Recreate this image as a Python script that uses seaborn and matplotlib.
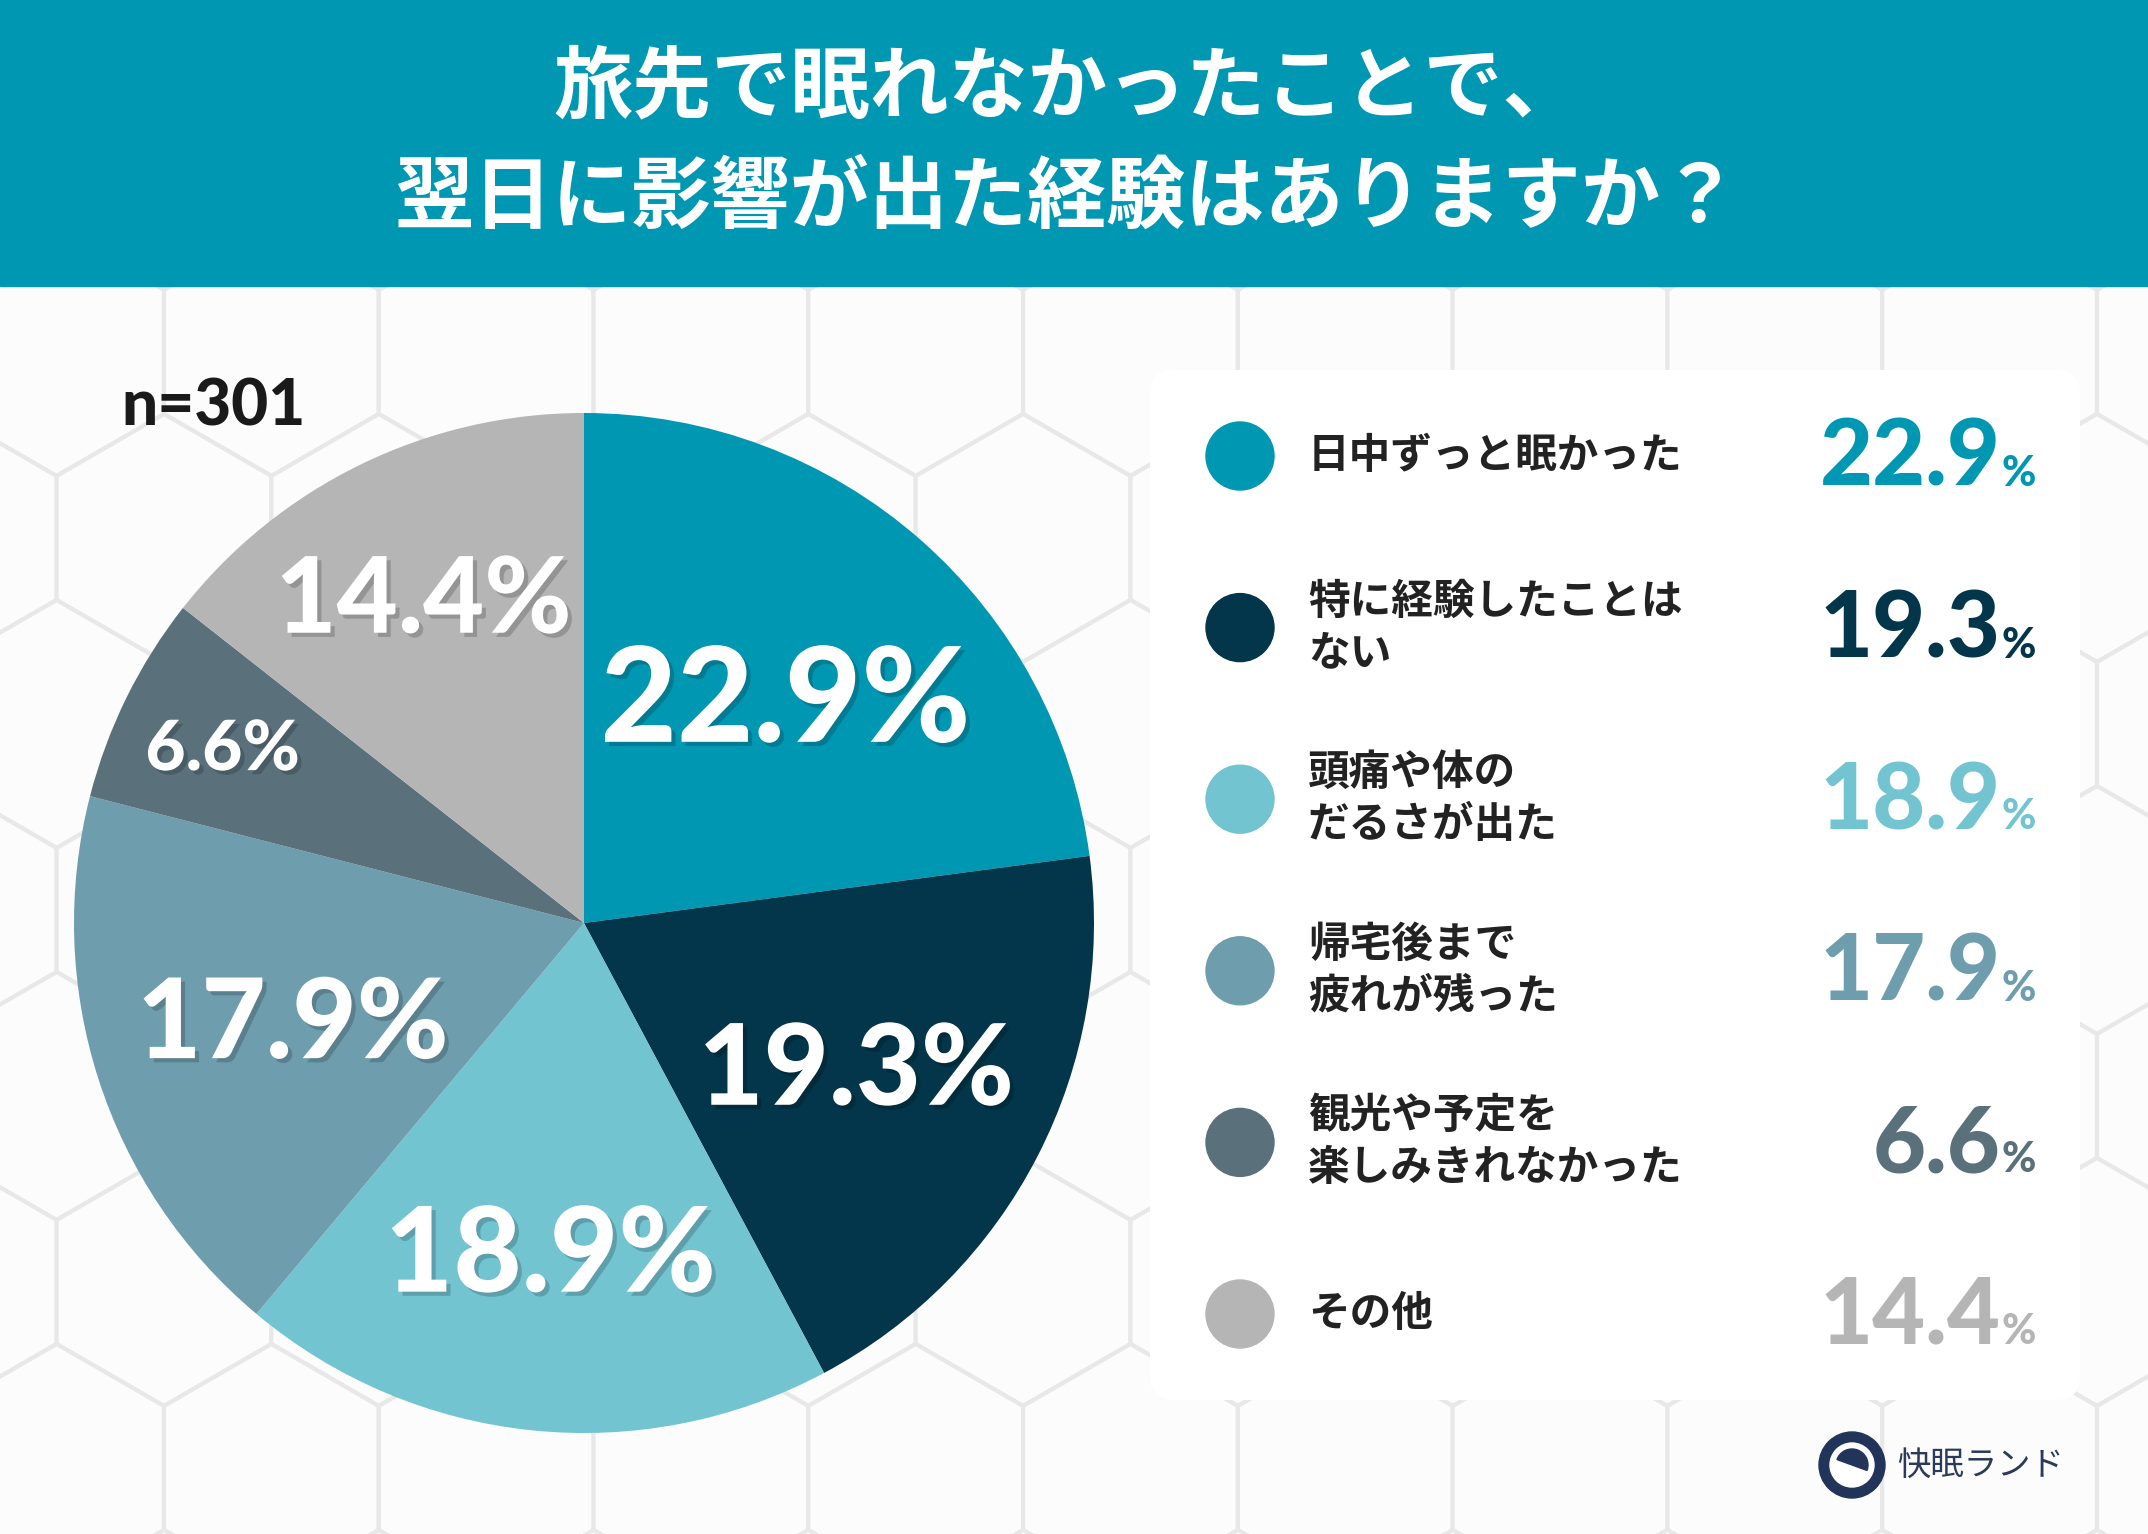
import numpy as np
import matplotlib
matplotlib.use("Agg")
import matplotlib.pyplot as plt
import matplotlib.patches as mpatches
import matplotlib.patheffects as pe
import seaborn as sns

# ---- data ----
categories = ["日中ずっと眠かった", "特に経験したことは\nない", "頭痛や体の\nだるさが出た",
              "帰宅後まで\n疲れが残った", "観光や予定を\n楽しみきれなかった", "その他"]
shares = [22.9, 19.3, 18.9, 17.9, 6.6, 14.4]
colors = ["#0097B2", "#03364A", "#72C4D1", "#6E9DAD", "#5A717C", "#B5B5B5"]
title_lines = ["旅先で眠れなかったことで、", "翌日に影響が出た経験はありますか？"]
sample_note = "n=301"
brand = "快眠ランド"

# label style per slice (distance from centre, font size)
label_r = [0.60, 0.60, 0.64, 0.60, 0.79, 0.72]
label_fs = [95, 81, 85, 80, 50, 76]

W, H = 2148, 1534
JP = ["Noto Sans CJK JP", "DejaVu Sans"]
NUM = ["Lato", "DejaVu Sans"]

sns.set_theme(style="white")
plt.rcParams["font.family"] = NUM

fig = plt.figure(figsize=(W / 100, H / 100), dpi=100)
fig.patch.set_facecolor("#f6f6f6")

bg = fig.add_axes([0, 0, 1, 1])
bg.set_xlim(0, W)
bg.set_ylim(H, 0)
bg.axis("off")

# hexagon background
R = 124
w = np.sqrt(3) * R
for row in range(-1, 11):
    hy = 166 + row * 1.5 * R
    off = 0 if row % 2 == 0 else w / 2
    for col in range(-1, 12):
        hx = 164 + off + col * w
        bg.add_patch(mpatches.RegularPolygon((hx, hy), 6, radius=R, orientation=0,
                                             facecolor="#fcfcfc", edgecolor="#e8e8e8",
                                             lw=3, zorder=0))

# title banner
bg.add_patch(mpatches.Rectangle((0, 0), W, 286, color="#0097B2", zorder=2))
bg.text(1068, 88, title_lines[0], ha="center", va="center", fontsize=57,
        fontweight="bold", color="white", family=JP, zorder=3)
bg.text(1068, 198, title_lines[1], ha="center", va="center", fontsize=57,
        fontweight="bold", color="white", family=JP, zorder=3)

# sample size
bg.text(121, 426, sample_note, ha="left", va="baseline", fontsize=46,
        fontweight="black", color="#1a1a1a", zorder=3)

# legend panel
bg.add_patch(mpatches.FancyBboxPatch((1150, 370), 930, 1030,
                                     boxstyle="round,pad=0,rounding_size=24",
                                     facecolor="white", edgecolor="none", zorder=2))
for i, (cat, val, col) in enumerate(zip(categories, shares, colors)):
    ly = 456 + i * 171.6
    bg.add_patch(mpatches.Circle((1240, ly), 34, color=col, zorder=3))
    bg.text(1308, ly, cat, ha="left", va="center", fontsize=30, fontweight="bold",
            color="#222222", family=JP, linespacing=1.3, zorder=3)
    bg.text(2001, ly + 30, f"{val:.1f}", ha="right", va="baseline", fontsize=66,
            fontweight="black", color=col, zorder=3)
    bg.text(2036, ly + 30, "%", ha="right", va="baseline", fontsize=30,
            fontweight="black", color=col, zorder=3)

# brand logo
bg.add_patch(mpatches.Circle((1852, 1465), 33, color="#22345a", zorder=3))
bg.add_patch(mpatches.Circle((1852, 1465), 22, color="white", zorder=4))
bg.add_patch(mpatches.Wedge((1852, 1465), 16, 200, 20, color="#22345a", zorder=5))
bg.text(1897, 1465, brand, ha="left", va="center", fontsize=24, color="#2b3a58",
        family=JP, zorder=3)

# pie chart
cx, cy, r = 584, 923, 510
pax = fig.add_axes([(cx - r) / W, (H - cy - r) / H, 2 * r / W, 2 * r / H])
wedges, _ = pax.pie(shares, colors=colors, startangle=90, counterclock=False,
                    radius=1, wedgeprops=dict(linewidth=0))
pax.set_xlim(-1, 1)
pax.set_ylim(-1, 1)
pax.set_aspect("equal")
pax.axis("off")

shadow = [pe.withSimplePatchShadow(offset=(3, -3), shadow_rgbFace="black", alpha=0.18)]
for wdg, val, lr, fs in zip(wedges, shares, label_r, label_fs):
    ang = np.deg2rad((wdg.theta1 + wdg.theta2) / 2)
    pax.text(lr * np.cos(ang), lr * np.sin(ang), f"{val:.1f}%", ha="center",
             va="center_baseline", fontsize=fs, fontweight="black", color="white",
             path_effects=shadow)

fig.savefig("out.png", dpi=100, facecolor=fig.get_facecolor())
